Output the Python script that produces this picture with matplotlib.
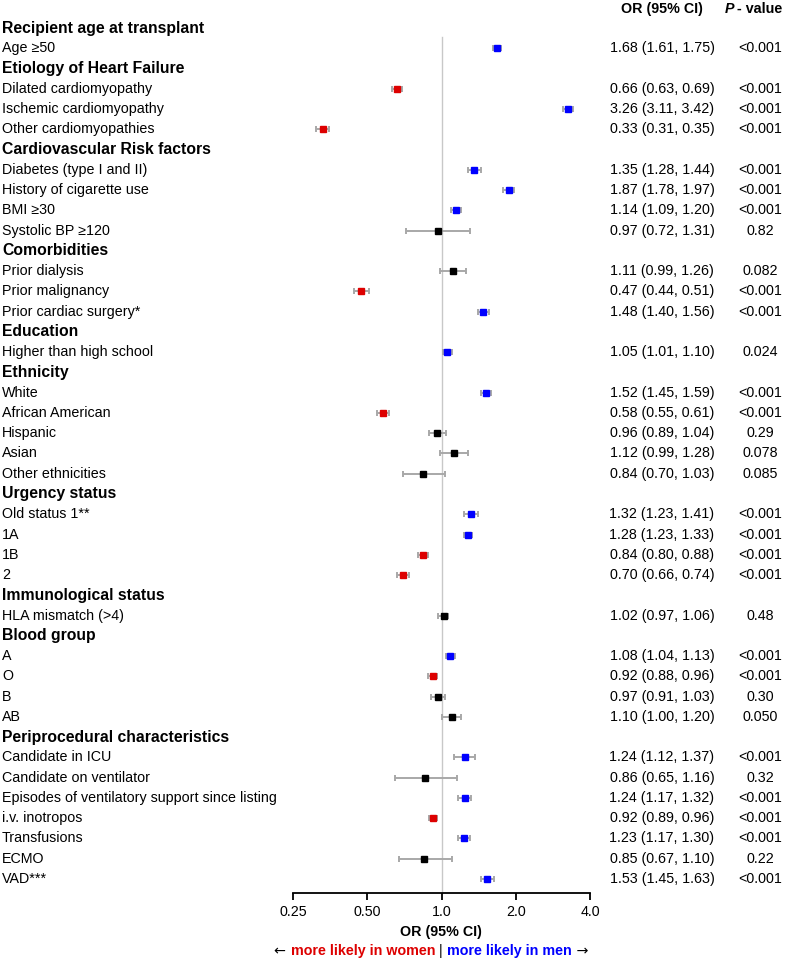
import matplotlib
matplotlib.use("Agg")
import matplotlib.pyplot as plt
from matplotlib.transforms import blended_transform_factory

# group headings and how many variables sit under each
groups = ["Recipient age at transplant", "Etiology of Heart Failure",
          "Cardiovascular Risk factors", "Comorbidities", "Education",
          "Ethnicity", "Urgency status", "Immunological status",
          "Blood group", "Periprocedural characteristics"]
group_sizes = [1, 3, 4, 3, 1, 5, 4, 1, 4, 7]

variables = ["Age \u226550",
             "Dilated cardiomyopathy", "Ischemic cardiomyopathy", "Other cardiomyopathies",
             "Diabetes (type I and II)", "History of cigarette use", "BMI \u226530", "Systolic BP \u2265120",
             "Prior dialysis", "Prior malignancy", "Prior cardiac surgery*",
             "Higher than high school",
             "White", "African American", "Hispanic", "Asian", "Other ethnicities",
             "Old status 1**", "1A", "1B", "2",
             "HLA mismatch (>4)",
             "A", "O", "B", "AB",
             "Candidate in ICU", "Candidate on ventilator",
             "Episodes of ventilatory support since listing", "i.v. inotropos",
             "Transfusions", "ECMO", "VAD***"]
odds = [1.68, 0.66, 3.26, 0.33, 1.35, 1.87, 1.14, 0.97, 1.11, 0.47, 1.48, 1.05,
        1.52, 0.58, 0.96, 1.12, 0.84, 1.32, 1.28, 0.84, 0.70, 1.02,
        1.08, 0.92, 0.97, 1.10, 1.24, 0.86, 1.24, 0.92, 1.23, 0.85, 1.53]
ci_low = [1.61, 0.63, 3.11, 0.31, 1.28, 1.78, 1.09, 0.72, 0.99, 0.44, 1.40, 1.01,
          1.45, 0.55, 0.89, 0.99, 0.70, 1.23, 1.23, 0.80, 0.66, 0.97,
          1.04, 0.88, 0.91, 1.00, 1.12, 0.65, 1.17, 0.89, 1.17, 0.67, 1.45]
ci_high = [1.75, 0.69, 3.42, 0.35, 1.44, 1.97, 1.20, 1.31, 1.26, 0.51, 1.56, 1.10,
           1.59, 0.61, 1.04, 1.28, 1.03, 1.41, 1.33, 0.88, 0.74, 1.06,
           1.13, 0.96, 1.03, 1.20, 1.37, 1.16, 1.32, 0.96, 1.30, 1.10, 1.63]
p_text = ["<0.001", "<0.001", "<0.001", "<0.001", "<0.001", "<0.001", "<0.001", "0.82",
          "0.082", "<0.001", "<0.001", "0.024", "<0.001", "<0.001", "0.29", "0.078", "0.085",
          "<0.001", "<0.001", "<0.001", "<0.001", "0.48", "<0.001", "<0.001", "0.30", "0.050",
          "<0.001", "0.32", "<0.001", "<0.001", "<0.001", "0.22", "<0.001"]

W, H = 789, 959
plt.rcParams['font.family'] = ['Liberation Sans', 'DejaVu Sans']

fig = plt.figure(figsize=(W / 100, H / 100), dpi=100)
ax = fig.add_axes([293 / W, 1 - 893 / H, 297 / W, (893 - 28) / H])
ybot = (893 - 28) / 20.26
ax.set_xscale('log', base=2)
ax.set_xlim(0.25, 4)
ax.set_ylim(ybot, 0)
ax.set_xticks([0.25, 0.5, 1, 2, 4])
ax.set_xticklabels(["0.25", "0.50", "1.0", "2.0", "4.0"], fontsize=10.3)
ax.minorticks_off()
ax.set_yticks([])
for s in ['top', 'left', 'right']:
    ax.spines[s].set_visible(False)
ax.spines['bottom'].set_linewidth(1.3)
ax.tick_params(axis='x', length=5, width=1.3, pad=3.5)

ax.plot([1, 1], [0.45, ybot], color='#c8c8c8', lw=1, zorder=1, clip_on=False)

tr = blended_transform_factory(fig.transFigure, ax.transData)

rows = []
k = 0
for g, n in zip(groups, group_sizes):
    rows.append((g, None))
    for j in range(n):
        rows.append((variables[k], k))
        k += 1

for y, (name, idx) in enumerate(rows):
    if idx is None:
        fig.text(2 / W, y, name, transform=tr, fontsize=11.3, fontweight='bold', va='center')
        continue
    fig.text(2 / W, y, name, transform=tr, fontsize=10.3, va='center')
    o, lo, hi = odds[idx], ci_low[idx], ci_high[idx]
    if lo > 1:
        c = '#0000ff'
    elif hi < 1:
        c = '#dd0000'
    else:
        c = 'black'
    ax.errorbar(o, y, xerr=[[o - lo], [hi - o]], fmt='none', ecolor='#a8a8a8',
                elinewidth=1.4, capsize=2.5, capthick=1.4, zorder=2)
    ax.plot(o, y, 's', color=c, ms=4.6, zorder=3)
    fig.text(662 / W, y, f"{o:.2f} ({lo:.2f}, {hi:.2f})", transform=tr,
             fontsize=10.3, ha='center', va='center')
    fig.text(760 / W, y, p_text[idx], transform=tr, fontsize=10.3, ha='center', va='center')

# column headings
fig.text(662 / W, 1 - 9 / H, "OR (95% CI)", fontsize=10.3, fontweight='bold', ha='center', va='center')
fig.text(734 / W, 1 - 9 / H, "P", fontsize=10.3, fontweight='bold', style='italic', ha='right', va='center')
fig.text(737 / W, 1 - 9 / H, "- value", fontsize=10.3, fontweight='bold', ha='left', va='center')

# axis caption and direction note
fig.text(441 / W, 1 - 932 / H, "OR (95% CI)", fontsize=10.3, fontweight='bold', ha='center', va='center')

# direction note: pieces laid out on one baseline, measured with the renderer
yb = 1 - 955 / H
renderer = fig.canvas.get_renderer()
pieces_left = [("\u2190 ", 'black', 'normal', ['DejaVu Sans']),
               ("more likely in women ", '#dd0000', 'bold', ['Liberation Sans'])]
pieces_right = [(" more likely in men", '#0000ff', 'bold', ['Liberation Sans']),
                (" \u2192", 'black', 'normal', ['DejaVu Sans'])]
bar = fig.text(441 / W, yb, "|", fontsize=10.3, ha='center', va='baseline')
bb = bar.get_window_extent(renderer)
xl, xr = bb.x0, bb.x1
for txt, col, wt, fam in reversed(pieces_left):
    t = fig.text(xl / W, yb, txt, fontsize=10.3, color=col, fontweight=wt,
                 family=fam, ha='right', va='baseline')
    xl = t.get_window_extent(renderer).x0
for txt, col, wt, fam in pieces_right:
    t = fig.text(xr / W, yb, txt, fontsize=10.3, color=col, fontweight=wt,
                 family=fam, ha='left', va='baseline')
    xr = t.get_window_extent(renderer).x1

fig.savefig("out.png", dpi=100)
